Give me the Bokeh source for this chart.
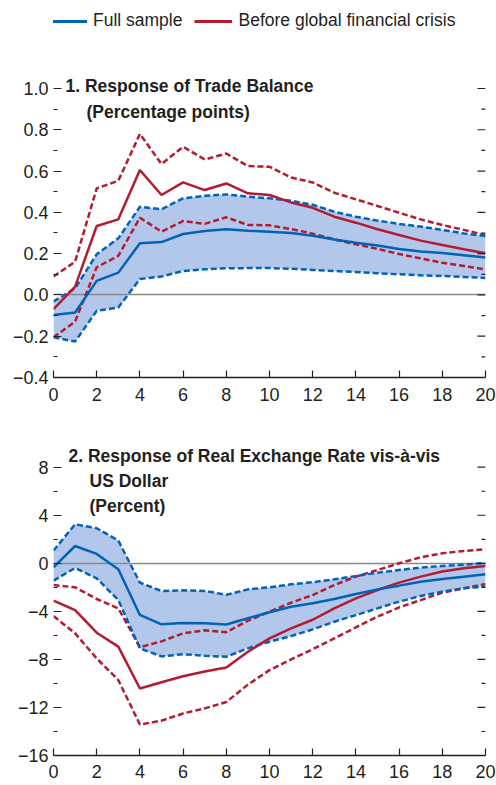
from bokeh.plotting import figure
from bokeh.layouts import column
from bokeh.models import (FixedTicker, Range1d, Legend, LegendItem, Label)
from bokeh.embed import file_html
from bokeh.resources import INLINE
import math

# ---------------- data ----------------
horizon = list(range(21))
x_ticks = [0, 2, 4, 6, 8, 10, 12, 14, 16, 18, 20]
x_tick_labels = ["0", "2", "4", "6", "8", "10", "12", "14", "16", "18", "20"]

series_names = ["Full sample", "Before global financial crisis"]

# Panel 1: trade balance (percentage points)
tb_full = [-0.097, -0.085, 0.068, 0.108, 0.25, 0.256, 0.295, 0.31, 0.318, 0.311, 0.306,
           0.30, 0.287, 0.269, 0.253, 0.239, 0.223, 0.21, 0.203, 0.192, 0.181]
tb_full_hi = [-0.032, 0.032, 0.197, 0.274, 0.427, 0.415, 0.468, 0.48, 0.487, 0.476, 0.468,
              0.456, 0.437, 0.403, 0.379, 0.36, 0.344, 0.331, 0.315, 0.298, 0.285]
tb_full_lo = [-0.205, -0.226, -0.077, -0.061, 0.077, 0.089, 0.116, 0.124, 0.129, 0.13, 0.13,
              0.127, 0.121, 0.116, 0.111, 0.105, 0.1, 0.095, 0.092, 0.087, 0.082]
tb_pre = [-0.069, 0.04, 0.334, 0.366, 0.605, 0.484, 0.545, 0.508, 0.54, 0.492, 0.484,
          0.448, 0.422, 0.379, 0.35, 0.318, 0.29, 0.263, 0.242, 0.221, 0.202]
tb_pre_hi = [0.089, 0.161, 0.516, 0.553, 0.78, 0.634, 0.718, 0.656, 0.685, 0.624, 0.621,
             0.569, 0.545, 0.495, 0.463, 0.431, 0.398, 0.366, 0.339, 0.315, 0.29]
tb_pre_lo = [-0.205, -0.129, 0.134, 0.189, 0.374, 0.306, 0.358, 0.344, 0.376, 0.339, 0.337,
             0.319, 0.297, 0.269, 0.245, 0.223, 0.198, 0.177, 0.156, 0.14, 0.124]
tb_ticks = [-0.4, -0.2, 0.0, 0.2, 0.4, 0.6, 0.8, 1.0]
tb_tick_labels = ["\u22120.4", "\u22120.2", "0.0", "0.2", "0.4", "0.6", "0.8", "1.0"]
tb_minor = [-0.3, -0.1, 0.1, 0.3, 0.5, 0.7, 0.9]
tb_title = ["1. Response of Trade Balance", "(Percentage points)"]

# Panel 2: real exchange rate vis-a-vis US dollar (percent)
rer_full = [-0.33, 1.44, 0.78, -0.5, -4.3, -5.08, -4.97, -5.0, -5.09, -4.58, -4.08,
            -3.61, -3.33, -2.97, -2.56, -2.17, -1.86, -1.53, -1.31, -1.11, -0.92]
rer_full_hi = [1.06, 3.25, 2.92, 1.89, -1.61, -2.3, -2.25, -2.3, -2.62, -2.17, -2.0,
               -1.75, -1.57, -1.33, -1.06, -0.78, -0.56, -0.36, -0.22, -0.11, 0.02]
rer_full_lo = [-1.44, -0.39, -1.25, -3.06, -7.08, -7.75, -7.57, -7.7, -7.78, -7.08, -6.53,
               -6.06, -5.5, -4.86, -4.31, -3.75, -3.19, -2.72, -2.36, -2.08, -1.94]
rer_pre = [-3.11, -3.89, -5.78, -6.94, -10.42, -9.9, -9.4, -9.0, -8.68, -7.36, -6.25,
           -5.42, -4.7, -3.75, -2.92, -2.22, -1.61, -1.11, -0.69, -0.42, -0.22]
rer_pre_hi = [-1.81, -2.0, -2.97, -3.75, -6.98, -6.5, -5.83, -5.58, -5.73, -4.78, -4.03,
              -3.28, -2.64, -1.81, -1.11, -0.56, 0.0, 0.5, 0.83, 1.03, 1.17]
rer_pre_lo = [-4.39, -5.83, -7.92, -9.72, -13.42, -13.1, -12.5, -12.08, -11.55, -10.1, -8.89,
              -8.0, -7.15, -6.25, -5.33, -4.44, -3.67, -3.06, -2.44, -2.08, -1.72]
rer_ticks = [-16, -12, -8, -4, 0, 4, 8]
rer_tick_labels = ["\u221216", "\u221212", "\u22128", "\u22124", "0", "4", "8"]
rer_minor = [-14, -10, -6, -2, 2, 6]
rer_title = ["2. Response of Real Exchange Rate vis-\u00e0-vis", "US Dollar", "(Percent)"]

zero_line = [0]

# ---------------- style ----------------
FONT = "Liberation Sans"
TEXT = "#231f20"
BLUE = "#0063b8"
RED = "#b31b31"
FILL = "#b3c7ea"
ZERO = "#8a8a8a"
LW = 2.5
DASH = "6 3"
W = 496


def make_panel(height, border_left, border_top, border_bottom, border_right,
               yticks, ylabels, yminor, y_end, xstandoff,
               full, full_hi, full_lo, pre, pre_hi, pre_lo, title_lines, title_offsets):
    p = figure(width=W, height=height, output_backend="svg", toolbar_location=None,
               x_range=Range1d(horizon[0], horizon[-1]), y_range=Range1d(yticks[0], y_end),
               min_border_left=border_left, min_border_right=border_right,
               min_border_top=border_top, min_border_bottom=border_bottom)
    p.outline_line_color = None
    p.xgrid.visible = False
    p.ygrid.visible = False
    p.background_fill_color = "white"
    p.border_fill_color = "white"

    p.varea(x=horizon, y1=full_lo, y2=full_hi, fill_color=FILL, fill_alpha=1.0)
    p.hspan(y=zero_line, line_color=ZERO, line_width=1.6)
    p.line(horizon, pre_hi, line_color=RED, line_width=LW, line_dash=DASH)
    p.line(horizon, pre_lo, line_color=RED, line_width=LW, line_dash=DASH)
    p.line(horizon, full_hi, line_color=BLUE, line_width=LW, line_dash=DASH)
    p.line(horizon, full_lo, line_color=BLUE, line_width=LW, line_dash=DASH)
    p.line(horizon, pre, line_color=RED, line_width=LW)
    p.line(horizon, full, line_color=BLUE, line_width=LW)

    # right-hand tick marks (inward), drawn from the tick lists
    p.ray(x=[horizon[-1]] * len(yticks), y=yticks, length=8, length_units="screen",
          angle=math.pi, line_color=TEXT, line_width=1.2)
    p.ray(x=[horizon[-1]] * len(yminor), y=yminor, length=4, length_units="screen",
          angle=math.pi, line_color=TEXT, line_width=1.2)

    # x axis
    xa = p.xaxis[0]
    xa.ticker = FixedTicker(ticks=x_ticks)
    xa.major_label_overrides = dict(zip(x_ticks, x_tick_labels))
    xa.major_tick_in = 7
    xa.major_tick_out = 0
    xa.minor_tick_line_color = None
    xa.axis_line_color = TEXT
    xa.axis_line_width = 1.5
    xa.major_tick_line_color = TEXT
    xa.major_tick_line_width = 1.2
    xa.major_label_text_font = FONT
    xa.major_label_text_font_size = "18px"
    xa.major_label_text_color = TEXT
    xa.major_label_standoff = xstandoff

    # left y axis
    ya = p.yaxis[0]
    ya.ticker = FixedTicker(ticks=yticks, minor_ticks=yminor)
    ya.major_label_overrides = dict(zip(yticks, ylabels))
    ya.axis_line_color = None
    ya.major_tick_in = 8
    ya.major_tick_out = 0
    ya.minor_tick_in = 4
    ya.minor_tick_out = 0
    ya.major_tick_line_color = TEXT
    ya.minor_tick_line_color = TEXT
    ya.major_tick_line_width = 1.2
    ya.minor_tick_line_width = 1.2
    ya.major_label_text_font = FONT
    ya.major_label_text_font_size = "18px"
    ya.major_label_text_color = TEXT
    ya.major_label_standoff = 5

    for txt, (xo, yo) in zip(title_lines, title_offsets):
        p.add_layout(Label(x=horizon[0], y=yticks[-1], x_offset=xo, y_offset=yo, text=txt,
                           text_font=FONT, text_font_style="bold", text_font_size="17.5px",
                           text_color=TEXT, text_baseline="alphabetic", text_align="left"))
    return p


# legend strip (its sample lines carry real data but sit outside the strip's range)
leg = figure(width=W, height=42, output_backend="svg", toolbar_location=None,
             x_range=Range1d(0, 1), y_range=Range1d(50, 51),
             x_axis_location=None, y_axis_location=None,
             min_border_left=0, min_border_right=0, min_border_top=0, min_border_bottom=0)
leg.grid.visible = False
leg.outline_line_color = None
r_full = leg.line(horizon, tb_full, line_color=BLUE, line_width=3)
r_pre = leg.line(horizon, tb_pre, line_color=RED, line_width=3)
legend = Legend(items=[LegendItem(label=series_names[0], renderers=[r_full]),
                       LegendItem(label=series_names[1], renderers=[r_pre])],
                orientation="horizontal", location=(-4, 11),
                label_text_font=FONT, label_text_font_size="17.5px", label_text_color=TEXT,
                glyph_width=38, glyph_height=20, label_standoff=6, spacing=12,
                padding=0, margin=0, border_line_color=None, background_fill_alpha=0)
leg.add_layout(legend, "center")

top = make_panel(366, 53, 31, 31, 11, tb_ticks, tb_tick_labels, tb_minor, 1.0726, 10,
                 tb_full, tb_full_hi, tb_full_lo, tb_pre, tb_pre_hi, tb_pre_lo,
                 tb_title, [(12, 2), (33, -24)])
bottom = make_panel(377, 50, 36, 30, 10, rer_ticks, rer_tick_labels, rer_minor, 9.89, 9,
                    rer_full, rer_full_hi, rer_full_lo, rer_pre, rer_pre_hi, rer_pre_lo,
                    rer_title, [(15, 11), (36, -14), (36, -39)])

layout = column(leg, top, bottom, spacing=0)
open("out.html", "w").write(file_html(layout, INLINE))
